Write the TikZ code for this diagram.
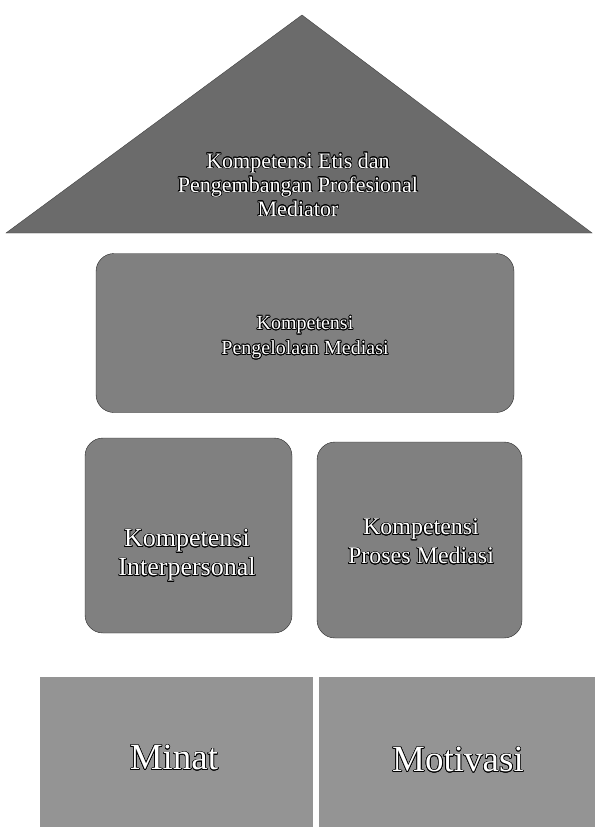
\documentclass[tikz,border=0pt]{standalone}
\usepackage{fontspec}
\setmainfont{Liberation Serif}
\usepackage[copies]{contour}
\contourlength{0.7pt}
\usetikzlibrary{positioning}
\newcommand{\outl}[1]{\contour{black}{#1}}
\tikzset{
	roof/.style  ={fill=black!58, draw=black!75},
	pillar/.style={rectangle, rounded corners=18pt, draw=black!85, fill=black!50, align=center, text=white, inner sep=0pt},
	basebox/.style={rectangle, fill=black!42, align=center, text=white, inner sep=0pt},
	lbl/.style   ={align=center, text=white, inner sep=0pt},
}
\begin{document}
\begin{tikzpicture}[x=1pt, y=-1pt]
	\useasboundingbox (0,0) rectangle (595,827);
	% roof
	\coordinate (apex) at (302,15);
	\coordinate (eaveL) at (6,233);
	\coordinate (eaveR) at (592,233);
	\path[roof] (apex) -- (eaveR) -- (eaveL) -- cycle;
	\node[lbl, font=\fontsize{22}{24}\selectfont] (etis) at (298,185)
		{\outl{Kompetensi Etis dan}\\\outl{Pengembangan Profesional}\\\outl{Mediator}};
	% pillars
	\node[pillar, minimum width=418pt, minimum height=159pt] (kelola) at (305,333) {};
	\node[lbl, font=\fontsize{20}{25}\selectfont] (kelolatxt) at (305,338)
		{\outl{Kompetensi}\\\outl{Pengelolaan Mediasi}};
	\node[pillar, minimum width=207pt, minimum height=195pt] (inter) at (188.5,535.5) {};
	\node[lbl, font=\fontsize{26}{29}\selectfont] (intertxt) at (187,556)
		{\outl{Kompetensi}\\\outl{Interpersonal}};
	\node[pillar, minimum width=205pt, minimum height=196pt] (proses) at (419.5,540) {};
	\node[lbl, font=\fontsize{24}{29}\selectfont] (prosestxt) at (421,542)
		{\outl{Kompetensi}\\\outl{Proses Mediasi}};
	% base
	\node[basebox, minimum width=273pt, minimum height=150pt] (minat) at (176.5,752) {};
	\node[lbl, font=\fontsize{37}{40}\selectfont] (minattxt) at (174,758) {\outl{Minat}};
	\node[basebox, minimum width=276pt, minimum height=150pt] (motiv) at (457,752) {};
	\node[lbl, font=\fontsize{37}{40}\selectfont] (motivtxt) at (458,760) {\outl{Motivasi}};
\end{tikzpicture}
\end{document}
